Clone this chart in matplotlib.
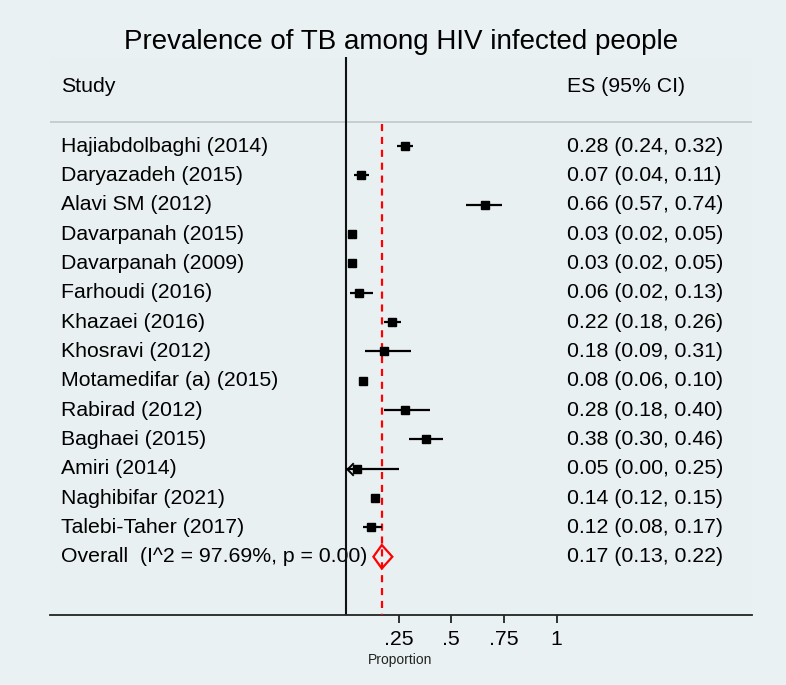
import matplotlib
matplotlib.use("Agg")
import matplotlib.pyplot as plt
from matplotlib.path import Path
from matplotlib.patches import Polygon
import matplotlib.transforms as mtransforms

plt.rcParams['font.family'] = ['Liberation Sans', 'DejaVu Sans']

title = "Prevalence of TB among HIV infected people"
studies = ["Hajiabdolbaghi (2014)", "Daryazadeh (2015)", "Alavi SM (2012)",
           "Davarpanah (2015)", "Davarpanah (2009)", "Farhoudi (2016)",
           "Khazaei (2016)", "Khosravi (2012)", "Motamedifar (a) (2015)",
           "Rabirad (2012)", "Baghaei (2015)", "Amiri (2014)",
           "Naghibifar (2021)", "Talebi-Taher (2017)"]
es = [0.28, 0.07, 0.66, 0.03, 0.03, 0.06, 0.22, 0.18, 0.08, 0.28, 0.38, 0.05, 0.14, 0.12]
lo = [0.24, 0.04, 0.57, 0.02, 0.02, 0.02, 0.18, 0.09, 0.06, 0.18, 0.30, 0.00, 0.12, 0.08]
hi = [0.32, 0.11, 0.74, 0.05, 0.05, 0.13, 0.26, 0.31, 0.10, 0.40, 0.46, 0.25, 0.15, 0.17]
overall_label = "Overall  (I^2 = 97.69%, p = 0.00)"
overall_es, overall_lo, overall_hi = 0.17, 0.13, 0.22
xticks = [0.25, 0.5, 0.75, 1.0]
xticklabels = [".25", ".5", ".75", "1"]

W, H = 786, 685
fig = plt.figure(figsize=(W / 100, H / 100), dpi=100)
fig.patch.set_facecolor("#eaf1f3")

# pixel geometry
ax_left, ax_right, ax_top, ax_bottom = 50, 752, 57, 615
x0_px, px_per_unit = 346.0, 210.67
row0_px, row_step = 146.0, 29.34

ax = fig.add_axes([ax_left / W, (H - ax_bottom) / H,
                   (ax_right - ax_left) / W, (ax_bottom - ax_top) / H])
ax.set_facecolor("#e9f0f2")
ax.set_xlim((ax_left - x0_px) / px_per_unit, (ax_right - x0_px) / px_per_unit)
ax.set_ylim((ax_bottom - row0_px) / row_step, (ax_top - row0_px) / row_step)

for s in ["left", "right", "top"]:
    ax.spines[s].set_visible(False)
ax.spines["bottom"].set_linewidth(1.3)
ax.spines["bottom"].set_color("#222222")
ax.set_yticks([])
ax.set_xticks(xticks)
ax.set_xticklabels(xticklabels, fontsize=15.3)
ax.tick_params(axis="x", length=6, width=1.3, color="#222222", pad=5)

fs = 15.3
n = len(studies)
rows = list(range(n))
overall_row = n

# zero line
ax.axvline(0, color="#111111", lw=1.5, zorder=2)
# separator under header
sep_row = (122 - row0_px) / row_step
ax.axhline(sep_row, color="#c3c7ca", lw=1.2, zorder=1)
# overall dashed line
ax.plot([overall_es, overall_es], [(124 - row0_px) / row_step, ax.get_ylim()[0]],
        color="#ff0000", lw=1.6, ls=(0, (3.2, 2.6)), zorder=3)

# headers
hdr_row = (86 - row0_px) / row_step
x_lab = (61 - x0_px) / px_per_unit
x_es = (567 - x0_px) / px_per_unit
ax.text(x_lab, hdr_row, "Study", fontsize=fs, va="center", ha="left")
ax.text(x_es, hdr_row, "ES (95% CI)", fontsize=fs, va="center", ha="left")

# arrow marker for truncated CI
arrow_path = Path([(1.0, 1.0), (0.0, 0.0), (1.0, -1.0)],
                  [Path.MOVETO, Path.LINETO, Path.LINETO])

for r, name, e, l, h in zip(rows, studies, es, lo, hi):
    ax.text(x_lab, r, name, fontsize=fs, va="center", ha="left", zorder=4)
    ax.text(x_es, r, f"{e:.2f} ({l:.2f}, {h:.2f})", fontsize=fs,
            va="center", ha="left")
    ax.plot([l, h], [r, r], color="#000000", lw=1.6, zorder=4,
            solid_capstyle="butt")
    ax.plot([e], [r], marker="s", ms=5.6, color="#000000", zorder=5)
    if l <= 0:
        ax.plot([0.004], [r], marker=arrow_path, ms=9, mfc="none",
                mec="#000000", mew=1.4, zorder=5)

# overall row
ax.text(x_lab, overall_row, overall_label, fontsize=fs, va="center", ha="left", zorder=1)
ax.text(x_es, overall_row, f"{overall_es:.2f} ({overall_lo:.2f}, {overall_hi:.2f})",
        fontsize=fs, va="center", ha="left")
half_h = 0.40
diamond = Polygon([(overall_lo, overall_row), (overall_es, overall_row - half_h),
                   (overall_hi, overall_row), (overall_es, overall_row + half_h)],
                  closed=True, fill=False, edgecolor="#ff0000", lw=1.6, zorder=6)
ax.add_patch(diamond)

# x title
trans = mtransforms.blended_transform_factory(ax.transData, fig.transFigure)
ax.text(0.256, 1 - 660 / H, "Proportion", transform=trans, fontsize=10,
        ha="center", va="center", color="#222222")

fig.text(401 / W, 1 - 42 / H, title, fontsize=20, ha="center", va="center")

fig.savefig("out.png", dpi=100, facecolor=fig.get_facecolor())
